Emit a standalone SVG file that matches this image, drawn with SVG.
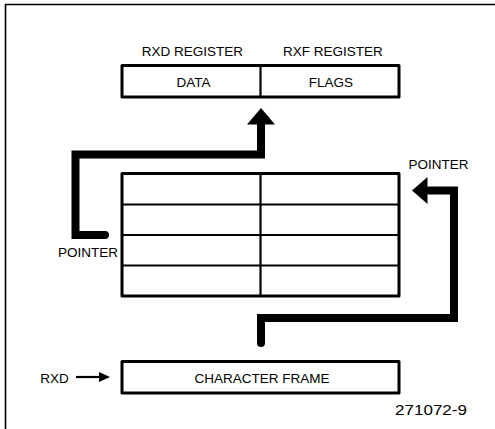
<svg xmlns="http://www.w3.org/2000/svg" width="495" height="429" viewBox="0 0 495 429">
<style>
.t{font-family:"Liberation Sans",Arial,sans-serif;font-size:13.5px;fill:#000;text-anchor:middle}
.box{fill:#fff;stroke:#000;stroke-width:3;stroke-linejoin:round}
.ln{stroke:#000;stroke-width:2.2;fill:none}
.thick{fill:none;stroke:#000;stroke-width:8;stroke-linejoin:miter;stroke-linecap:round}
.head{fill:#000}
</style>
<rect width="495" height="429" fill="#fff"/>
<path d="M5.5,429 V4.5 H495" fill="none" stroke="#000" stroke-width="1.6"/>
<g id="register">
<rect class="box" x="122" y="65.5" width="277" height="31.5"/>
<line class="ln" x1="260.5" y1="65.5" x2="260.5" y2="97"/>
<text class="t" x="192.5" y="56">RXD REGISTER</text>
<text class="t" x="333" y="56">RXF REGISTER</text>
<text class="t" x="193.5" y="87">DATA</text>
<text class="t" x="331" y="87">FLAGS</text>
</g>
<g id="buffer">
<rect class="box" x="122" y="173.5" width="277" height="122.5"/>
<line class="ln" x1="260.5" y1="173.5" x2="260.5" y2="296"/>
<line class="ln" x1="122" y1="204.5" x2="399" y2="204.5"/>
<line class="ln" x1="122" y1="235" x2="399" y2="235"/>
<line class="ln" x1="122" y1="265.5" x2="399" y2="265.5"/>
</g>
<g id="frame">
<rect class="box" x="122" y="361.5" width="277" height="31.5"/>
<text class="t" x="262" y="383">CHARACTER FRAME</text>
</g>
<g id="connectors">
<path class="thick" d="M105,235 H75.5 V154.5 H261 V122"/>
<polygon class="head" points="247,124.5 261,108 275,124.5"/>
<path class="thick" d="M261,343 V318 H454 V190.5 H429"/>
<polygon class="head" points="427.5,177 412,190.5 427.5,204"/>
<line x1="76" y1="377" x2="101" y2="377" stroke="#000" stroke-width="2.2"/>
<polygon class="head" points="99,372 110,377 99,382"/>
</g>
<g id="labels">
<text class="t" x="88" y="257">POINTER</text>
<text class="t" x="438.5" y="169">POINTER</text>
<text class="t" x="54.5" y="383">RXD</text>
<text class="t" x="431" y="415" style="font-size:15px" textLength="72" lengthAdjust="spacingAndGlyphs">271072-9</text>
</g>
</svg>
